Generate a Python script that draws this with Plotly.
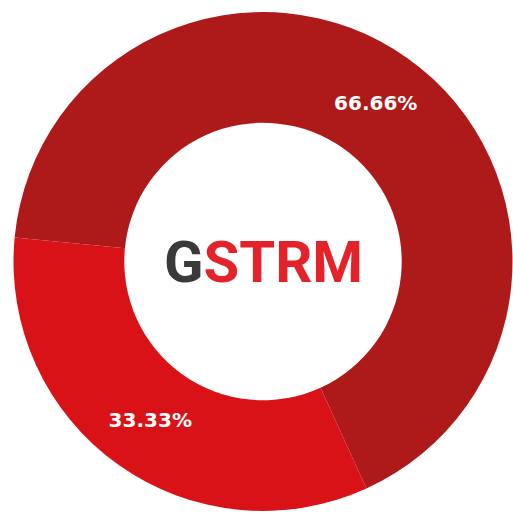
import plotly.graph_objects as go

labels = ["Slice A", "Slice B"]
values = [66.66, 33.33]
text_labels = ["66.66%", "33.33%"]
colors = ["#AE1919", "#D91218"]

fig = go.Figure(
    go.Pie(
        labels=labels,
        values=values,
        text=text_labels,
        textinfo="text",
        textposition="inside",
        insidetextorientation="horizontal",
        textfont=dict(family="DejaVu Sans", size=20, color="white", weight="bold"),
        marker=dict(colors=colors, line=dict(width=0)),
        hole=0.556,
        rotation=-84.5,
        direction="clockwise",
        sort=False,
        hoverinfo="skip",
        domain=dict(x=[0, 1], y=[0, 1]),
    )
)

fig.add_annotation(
    x=0.5, y=0.5, xref="paper", yref="paper",
    text='<span style="color:#3A3A3A">G</span><span style="color:#E4222A">STRM</span>',
    showarrow=False,
    font=dict(family="Roboto", size=58, weight="bold"),
    xanchor="center", yanchor="middle",
)

fig.update_layout(
    width=513,
    height=514,
    margin=dict(l=13, r=0, t=11.5, b=2.5),
    showlegend=False,
    paper_bgcolor="white",
    plot_bgcolor="white",
)

fig.write_html(
    "out.html",
    config={"displayModeBar": False},
    post_script="document.body.style.margin='0px';",
)
